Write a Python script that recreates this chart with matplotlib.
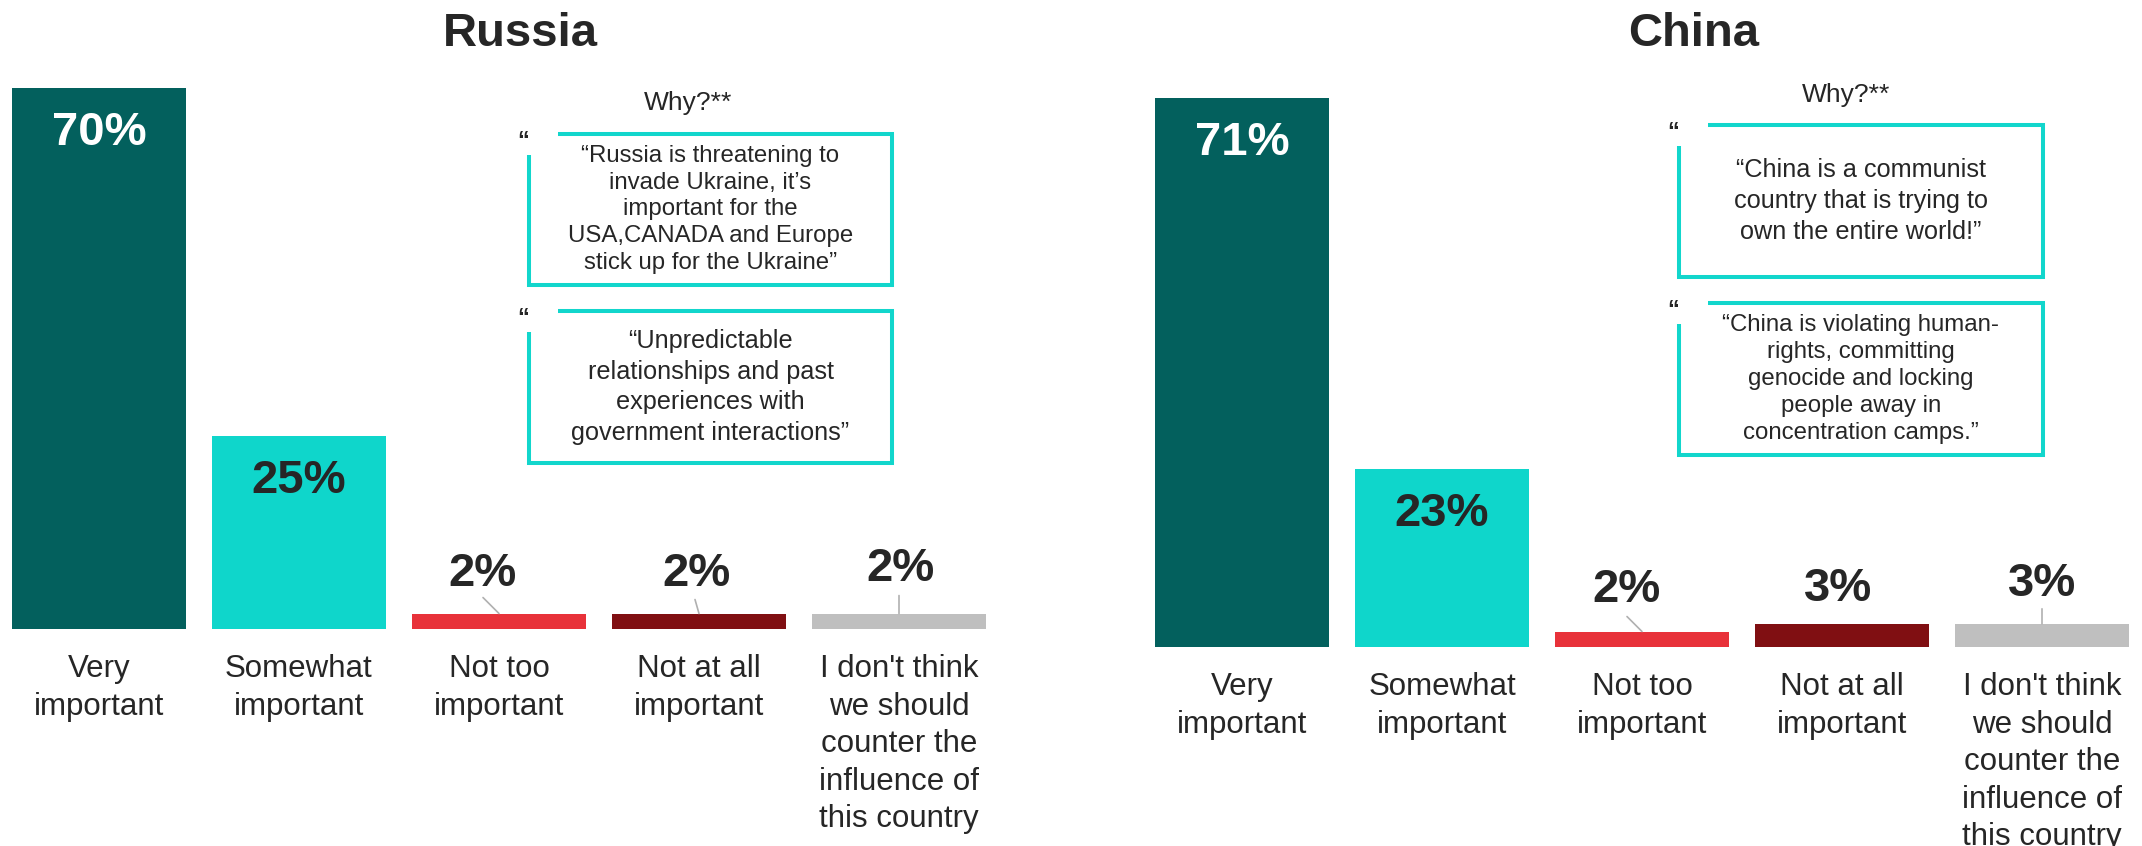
import matplotlib
matplotlib.use("Agg")
import matplotlib.pyplot as plt

plt.rcParams['font.family'] = ['Liberation Sans', 'DejaVu Sans']

# data
categories = ["Very\nimportant", "Somewhat\nimportant", "Not too\nimportant",
              "Not at all\nimportant",
              "I don't think\nwe should\ncounter the\ninfluence of\nthis country"]
russia_vals = [70, 25, 2, 2, 2]
china_vals = [71, 23, 2, 3, 3]
bar_colors = ["#03605D", "#0FD6CB", "#E8323A", "#800F12", "#BFBFBF"]

russia_quotes = ["\u201cRussia is threatening to\ninvade Ukraine, it\u2019s\nimportant for the\nUSA,CANADA and Europe\nstick up for the Ukraine\u201d",
                 "\u201cUnpredictable\nrelationships and past\nexperiences with\ngovernment interactions\u201d"]
china_quotes = ["\u201cChina is a communist\ncountry that is trying to\nown the entire world!\u201d",
                "\u201cChina is violating human-\nrights, committing\ngenocide and locking\npeople away in\nconcentration camps.\u201d"]

TEXT = "#262626"
BOX = "#12D6CC"
LEAD = "#B0B0B0"
W, H = 2142, 846
PX_PER_PCT = 7.73
YMAX = 80

fig = plt.figure(figsize=(W / 100, H / 100), dpi=100)


def px_axes(left, bottom, width, height):
    return fig.add_axes([left / W, bottom / H, width / W, height / H])


def draw_panel(ax, vals, lab_off, lead_off):
    x = list(range(len(vals)))
    ax.bar(x, vals, width=0.87, color=bar_colors)
    ax.set_xlim(-0.5, 4.5)
    ax.set_ylim(0, YMAX)
    ax.axis('off')
    for i, v in enumerate(vals):
        if v >= 10:
            ax.annotate(f"{v}%", (i, v), xytext=(0, -57), textcoords='offset pixels',
                        ha='center', va='baseline', fontsize=34, fontweight='bold',
                        color='white' if i == 0 else TEXT)
        else:
            dx, dy = lab_off[i]
            ax.annotate(f"{v}%", (i, v), xytext=(dx, dy), textcoords='offset pixels',
                        ha='center', va='baseline', fontsize=34, fontweight='bold',
                        color=TEXT)
            if lead_off[i] is not None:
                ax.annotate('', xy=(i, v), xytext=lead_off[i], textcoords='offset pixels',
                            arrowprops=dict(arrowstyle='-', color=LEAD, lw=1.2,
                                            shrinkA=0, shrinkB=0))
        ax.annotate(categories[i], (i, 0), xytext=(0, -25), textcoords='offset pixels',
                    ha='center', va='top', fontsize=22.5, linespacing=1.33, color=TEXT)


ax1 = px_axes(-1, H - 629, 1000, YMAX * PX_PER_PCT)
draw_panel(ax1, russia_vals,
           [None, None, (-16, 28), (-2, 28), (1, 33)],
           [None, None, (-16, 16), (-4, 14), (0, 18)])

ax2 = px_axes(1142, H - 647, 1000, YMAX * PX_PER_PCT)
draw_panel(ax2, china_vals,
           [None, None, (-15, 30), (-4, 23), (0, 28)],
           [None, None, (-15, 15), None, (0, 15)])

# overlay in pixel coordinates for titles and quote boxes
ov = fig.add_axes([0, 0, 1, 1])
ov.set_xlim(0, W)
ov.set_ylim(H, 0)
ov.axis('off')

ov.text(520, 46, "Russia", ha='center', va='baseline', fontsize=34,
        fontweight='bold', color=TEXT)
ov.text(1694, 46, "China", ha='center', va='baseline', fontsize=34,
        fontweight='bold', color=TEXT)
ov.text(688, 110, "Why?**", ha='center', va='baseline', fontsize=19, color=TEXT)
ov.text(1846, 102, "Why?**", ha='center', va='baseline', fontsize=19, color=TEXT)


def quote_box(left, right, top, bottom, text, fs, ls):
    ov.plot([left + 29, right, right, left, left],
            [top, top, bottom, bottom, top + 21],
            color=BOX, lw=2.9, solid_joinstyle='miter', solid_capstyle='butt')
    ov.text(left - 6, top + 14, "\u201c", ha='center', va='baseline', fontsize=17,
            fontweight='bold', color=TEXT)
    ov.text((left + right) / 2, (top + bottom) / 2, text, ha='center', va='center',
            multialignment='center', fontsize=fs, linespacing=ls, color=TEXT)


quote_box(529, 892, 134, 285, russia_quotes[0], 17.3, 1.29)
quote_box(529, 892, 311, 463, russia_quotes[1], 18.2, 1.35)
quote_box(1679, 2043, 125, 277, china_quotes[0], 18.2, 1.35)
quote_box(1679, 2043, 303, 455, china_quotes[1], 17.3, 1.29)

fig.savefig("out.png", dpi=100)
